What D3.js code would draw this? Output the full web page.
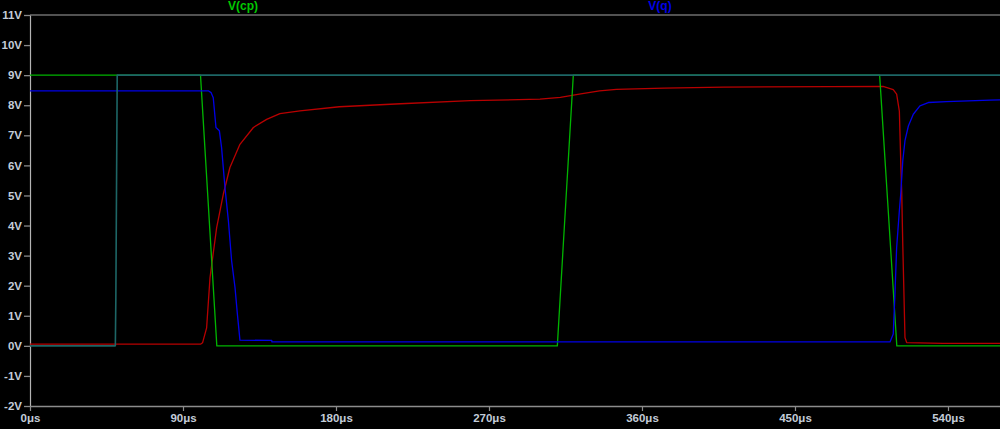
<!DOCTYPE html>
<html>
<head>
<meta charset="utf-8">
<script src="https://cdn.jsdelivr.net/npm/d3@7"></script>
<style>
html,body{margin:0;padding:0;background:#000;overflow:hidden;}
svg{display:block;}
</style>
</head>
<body>
<svg id="chart" width="1000" height="429"></svg>
<script>
// ---- data (time in µs, voltage in V) ----
const yTicks = [-2,-1,0,1,2,3,4,5,6,7,8,9,10,11];
const xTicks = [0,90,180,270,360,450,540];
const legendNames = ["V(cp)", "V(q)"];

const cpTime = [0, 100.3, 109.9, 310.2, 319.6, 499.8, 509.9, 570.6];
const cpVolt = [9, 9, 0, 0, 9, 9, 0, 0];

const qTime = [0, 104.9, 106.5, 107.8, 109.4, 111.4, 112.7, 114.7, 116.7, 118.6, 120.6, 122, 123.5, 142.2, 142.3, 300, 505.9, 507.8, 508.8, 509.8, 511.4, 512.2, 513.4, 514.7, 516.7, 519.6, 523.5, 528.4, 539.2, 564.7, 570.6];
const qVolt = [8.48, 8.48, 8.42, 8.25, 7.26, 7.15, 6.59, 5.26, 4.16, 2.83, 1.94, 1.05, 0.19, 0.18, 0.13, 0.13, 0.13, 0.39, 1.72, 3.27, 4.49, 5.04, 6.15, 6.82, 7.31, 7.70, 7.98, 8.09, 8.12, 8.17, 8.18];

const redTime = [0, 100.5, 101.5, 103.9, 105.9, 109.8, 113.7, 117.6, 123.5, 131.4, 139.2, 147, 158.8, 182, 218, 259, 300, 312, 324, 335, 345, 373, 408, 471, 501.8, 507.8, 509.8, 511.4, 512.2, 512.8, 513.4, 514.1, 514.7, 515.7, 537, 570.6];
const redVolt = [0.06, 0.06, 0.1, 0.6, 2.27, 3.93, 5.04, 5.93, 6.70, 7.26, 7.53, 7.72, 7.81, 7.95, 8.05, 8.15, 8.2, 8.26, 8.38, 8.48, 8.53, 8.57, 8.6, 8.62, 8.63, 8.52, 8.37, 7.8, 6.15, 5.05, 3.39, 1.72, 0.28, 0.11, 0.08, 0.08];

const tealTime = [0, 50.2, 50.5, 51.3, 570.6];
const tealVolt = [0, 0, 1.6, 9, 9];

// ---- layout ----
const svg = d3.select("#chart");
const x = d3.scaleLinear().domain([0, 570.6]).range([30, 1000]);
const y = d3.scaleLinear().domain([-2, 11]).range([406, 15]);

svg.append("rect").attr("width",1000).attr("height",429).attr("fill","#000");

// top frame line
svg.append("line").attr("x1", x(0)).attr("x2", 1000).attr("y1", y(11)).attr("y2", y(11))
  .attr("stroke","#6e6e6e").attr("stroke-width",1.6);

const font = "'Liberation Sans', Arial, sans-serif";

// y axis
const gy = svg.append("g").attr("transform", `translate(${x(0)},0)`)
  .call(d3.axisLeft(y).tickValues(yTicks).tickSizeInner(6).tickSizeOuter(0).tickPadding(2)
    .tickFormat(d => d + "V"));
gy.select(".domain").attr("stroke","#b4b4b4").attr("stroke-width",1.2);
gy.selectAll(".tick line").attr("stroke","#8a8a8a").attr("stroke-width",1.3);
gy.selectAll(".tick text").attr("fill","#c3ccd8").style("font-family",font)
  .style("font-size","11.5px").style("font-weight","bold");

// x axis
const gx = svg.append("g").attr("transform", `translate(0,${y(-2)})`)
  .call(d3.axisBottom(x).tickValues(xTicks).tickSizeInner(5).tickSizeOuter(0).tickPadding(3)
    .tickFormat(d => d + "μs"));
gx.select(".domain").attr("stroke","#8c8c8c").attr("stroke-width",1.3);
gx.selectAll(".tick line").attr("stroke","#8c8c8c").attr("stroke-width",1.2);
gx.selectAll(".tick text").attr("fill","#c3ccd8").style("font-family",font)
  .style("font-size","11.5px").style("font-weight","bold");

// traces
const line = d3.line().x(d => x(d[0])).y(d => y(d[1]));
function trace(times, volts, color, w) {
  svg.append("path").datum(times.map((t,i)=>[t, volts[i]]))
    .attr("d", line).attr("fill","none").attr("stroke", color)
    .attr("stroke-width", w).attr("stroke-linejoin","round");
}
trace(redTime, redVolt, "#b80000", 1.3);
trace(cpTime, cpVolt, "#00b400", 1.3);
trace(qTime, qVolt, "#0000e6", 1.3);
trace(tealTime, tealVolt, "#1d6666", 1.6);

// legend labels
const legendColors = ["#00c800", "#0000e6"];
const legendX = [243, 660];
legendNames.forEach((n,i) => {
  svg.append("text").attr("x", legendX[i]).attr("y", 10).attr("text-anchor","middle")
    .attr("fill", legendColors[i]).style("font-family",font).style("font-size","12px")
    .style("font-weight","bold").text(n);
});
</script>
</body>
</html>
